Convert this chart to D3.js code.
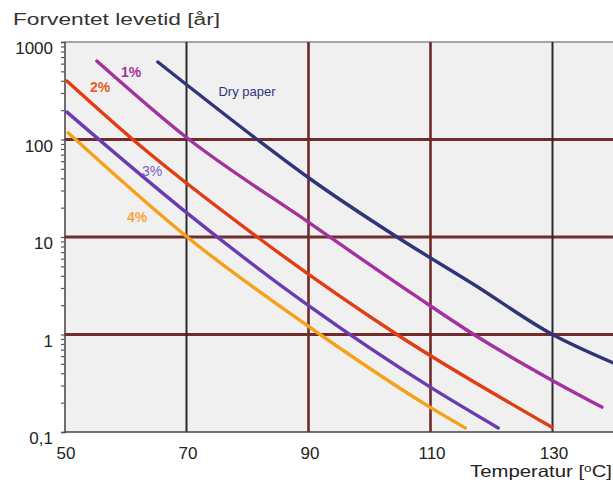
<!DOCTYPE html>
<html>
<head>
<meta charset="utf-8">
<script src="https://cdn.jsdelivr.net/npm/d3@7"></script>
<style>
  html, body { margin: 0; padding: 0; background: #fff; }
  svg { display: block; font-family: "Liberation Sans", Arial, sans-serif; }
</style>
</head>
<body>
<div id="chart"></div>
<script>
(() => {
  "use strict";

  // Expected paper life [years] vs temperature [°C].
  const DRY_T = [65.3, 81.6, 89.9, 104.5, 117.3, 130, 140];
  const DRY_V = [624, 100, 41, 10, 3.2, 1.0, 0.51];
  const P1_T = [55.3, 69.9, 89.9, 107.5, 117.1, 129.9, 138.1];
  const P1_V = [638, 106, 14.3, 2.5, 1.0, 0.34, 0.18];
  const P2_T = [50.4, 61.2, 81.6, 104.5, 129.9];
  const P2_V = [398, 100, 10, 1.0, 0.112];
  const P3_T = [50.4, 70.1, 89.9, 109.9, 121.1];
  const P3_V = [191, 17.6, 2.0, 0.29, 0.11];
  const P4_T = [50.6, 70.1, 91.9, 109.9, 115.7];
  const P4_V = [117, 10, 1.0, 0.18, 0.11];

  const X_TICKS = [50, 70, 90, 110, 130];
  const Y_TICKS = [0.1, 1, 10, 100, 1000];
  const Y_LABELS = ["0,1", "1", "10", "100", "1000"];

  const series = [
    { name: "Dry paper", t: DRY_T, v: DRY_V, color: "#30357a", lx: 247, ly: 91, bold: false },
    { name: "1%", t: P1_T, v: P1_V, color: "#a3329e", lx: 131, ly: 72, bold: true },
    { name: "2%", t: P2_T, v: P2_V, color: "#e23c12", lx: 100, ly: 87, bold: true, labelColor: "#ea5a22" },
    { name: "3%", t: P3_T, v: P3_V, color: "#6a3cb2", lx: 152, ly: 171, bold: false, labelColor: "#7a5cb8" },
    { name: "4%", t: P4_T, v: P4_V, color: "#f5a11c", lx: 137, ly: 217, bold: true, labelColor: "#f5a540" },
  ];

  const W = 613, H = 482;
  const L = 64.5, R = 613.5, T = 42, B = 432;

  const x = d3.scaleLinear().domain([50, 140]).range([L, R]);
  const y = d3.scaleLog().domain([0.1, 1000]).range([B, T]);

  const svg = d3.select("#chart").append("svg").attr("width", W).attr("height", H);

  svg.append("defs").append("clipPath").attr("id", "plot")
    .append("rect").attr("x", L).attr("y", T).attr("width", W - L).attr("height", B - T);

  svg.append("rect").attr("x", L).attr("y", T).attr("width", W - L).attr("height", B - T)
    .attr("fill", "#f0f0f0");

  // top border
  svg.append("line").attr("x1", L).attr("x2", W).attr("y1", T).attr("y2", T)
    .attr("stroke", "#8a8a8a").attr("stroke-width", 1.5);

  // horizontal grid (decades)
  svg.append("g").selectAll("line").data([1, 10, 100]).join("line")
    .attr("x1", L).attr("x2", W)
    .attr("y1", (d) => y(d)).attr("y2", (d) => y(d))
    .attr("stroke", "#732c2c").attr("stroke-width", 3);

  // vertical grid
  svg.append("g").selectAll("line").data([70, 90, 110, 130]).join("line")
    .attr("x1", (d) => x(d)).attr("x2", (d) => x(d))
    .attr("y1", T).attr("y2", B)
    .attr("stroke", (d) => (d === 90 || d === 110 ? "#6e2a2a" : "#2b2b2b"))
    .attr("stroke-width", (d) => (d === 90 || d === 110 ? 2.6 : 2));

  // left axis with log minor ticks
  const minor = [];
  for (let e = -1; e < 3; e++) for (let m = 1; m <= 9; m++) minor.push(m * Math.pow(10, e));
  minor.push(1000);
  const yAxis = svg.append("g").attr("transform", `translate(${L},0)`)
    .call(d3.axisLeft(y).tickValues(minor).tickSize(3.5).tickFormat(""));
  yAxis.select(".domain").attr("stroke", "#444").attr("stroke-width", 1.5);
  yAxis.selectAll(".tick line").attr("stroke", "#555").attr("stroke-width", 1.2);

  // bottom axis line
  svg.append("line").attr("x1", L).attr("x2", W).attr("y1", B).attr("y2", B)
    .attr("stroke", "#444").attr("stroke-width", 1.5);

  // curves
  const line = d3.line().curve(d3.curveMonotoneX).x((d) => x(d[0])).y((d) => y(d[1]));
  const curves = svg.append("g").attr("clip-path", "url(#plot)");
  series.forEach((s) => {
    curves.append("path")
      .datum(s.t.map((t, i) => [t, s.v[i]]))
      .attr("d", line)
      .attr("fill", "none")
      .attr("stroke", s.color)
      .attr("stroke-width", 3.4)
      .attr("stroke-linecap", "round");
  });

  // curve labels
  svg.append("g").selectAll("text").data(series).join("text")
    .attr("x", (d) => d.lx).attr("y", (d) => d.ly)
    .attr("dy", "0.35em")
    .attr("text-anchor", "middle")
    .attr("fill", (d) => d.labelColor || d.color)
    .style("font-size", (d) => (d.name === "Dry paper" ? "13px" : "14px"))
    .style("font-weight", (d) => (d.bold ? "bold" : "normal"))
    .text((d) => d.name);

  // tick labels
  svg.append("g").selectAll("text").data(Y_TICKS).join("text")
    .attr("x", 53).attr("y", (d) => y(d) + 12)
    .attr("text-anchor", "end").attr("fill", "#222")
    .style("font-size", "17px")
    .text((d, i) => Y_LABELS[i]);

  svg.append("g").selectAll("text").data(X_TICKS).join("text")
    .attr("x", (d) => x(d) + 1.5).attr("y", 459)
    .attr("text-anchor", "middle").attr("fill", "#222")
    .style("font-size", "17px")
    .text((d) => d);

  // axis titles
  svg.append("text").attr("x", 13).attr("y", 25)
    .attr("fill", "#333").style("font-size", "16px")
    .attr("textLength", 207).attr("lengthAdjust", "spacingAndGlyphs")
    .text("Forventet levetid [år]");

  const xt = svg.append("text").attr("x", 470).attr("y", 477)
    .attr("fill", "#222").style("font-size", "16.5px")
    .attr("textLength", 142).attr("lengthAdjust", "spacingAndGlyphs");
  xt.append("tspan").text("Temperatur [");
  xt.append("tspan").attr("dy", -5).style("font-size", "11px").text("o");
  xt.append("tspan").attr("dy", 5).text("C]");
})();
</script>
</body>
</html>
